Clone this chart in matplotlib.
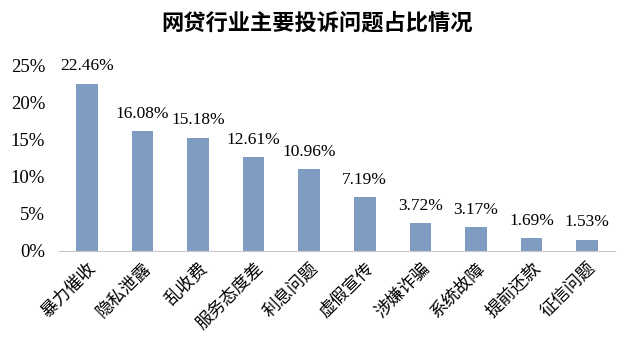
import matplotlib.pyplot as plt

categories = ["暴力催收", "隐私泄露", "乱收费", "服务态度差", "利息问题",
              "虚假宣传", "涉嫌诈骗", "系统故障", "提前还款", "征信问题"]
values = [22.46, 16.08, 15.18, 12.61, 10.96, 7.19, 3.72, 3.17, 1.69, 1.53]
y_ticks = [0, 5, 10, 15, 20, 25]

serif = ["Liberation Serif", "DejaVu Serif"]
cjk = ["Noto Sans CJK SC", "DejaVu Sans"]


def main():
    fig = plt.figure(figsize=(6.34, 3.6), dpi=100)
    ax = fig.add_axes([0.093, 0.303, 0.877, 0.516])

    x = list(range(len(categories)))
    ax.bar(x, values, width=0.39, color="#7F9DC2")

    for xi, v in zip(x, values):
        ax.annotate(f"{v:.2f}%", (xi, v), xytext=(0, 7), textcoords="offset points",
                    ha="center", va="bottom", fontsize=12.5, family=serif)

    ax.set_xlim(-0.5, len(categories) - 0.5)
    ax.set_ylim(0, 25)
    ax.set_yticks(y_ticks)
    ax.set_yticklabels([f"{t}%" for t in y_ticks], family=serif, fontsize=13.5)
    ax.set_xticks(x)
    ax.set_xticklabels(categories, rotation=45, ha="right", rotation_mode="anchor",
                       family=cjk, fontsize=12.5)
    ax.tick_params(axis="both", length=0)
    ax.tick_params(axis="y", pad=10)
    ax.tick_params(axis="x", pad=6)

    for side in ["top", "right", "left"]:
        ax.spines[side].set_visible(False)
    ax.spines["bottom"].set_color("#C8C8C8")

    fig.text(0.5, 0.935, "网贷行业主要投诉问题占比情况", ha="center", va="center",
             fontsize=16, fontweight="bold", family=cjk)

    fig.savefig("out.png", dpi=100, facecolor="white")


if __name__ == "__main__":
    main()
